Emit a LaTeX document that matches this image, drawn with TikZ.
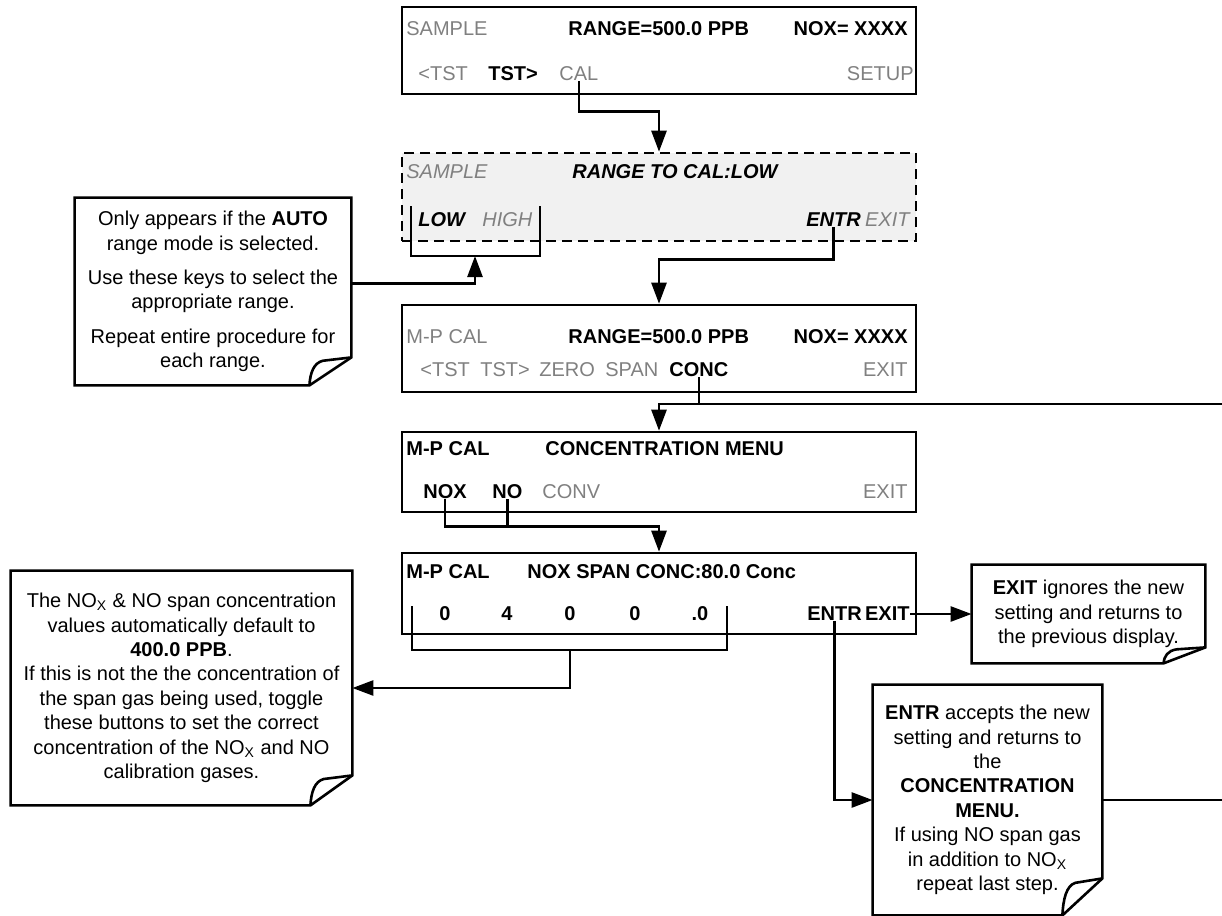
\documentclass[tikz,border=0pt]{standalone}
\usepackage{fontspec}
\setmainfont{Liberation Sans}
\usetikzlibrary{arrows.meta,calc}
\definecolor{keygray}{RGB}{128,128,128}
\definecolor{screenfill}{RGB}{241,241,241}
% note outline with a curled corner: node, fold width, fold height
\newcommand{\dogear}[3]{%
  \draw[link] (#1.south west) -- (#1.north west) -- (#1.north east)
    -- ($(#1.south east)+(0,-#3)$) -- ($(#1.south east)+(-#2,0)$) -- cycle;
  \draw[link] ($(#1.south east)+(0,-#3)$) -- ($(#1.south east)+(-0.68*#2,-0.88*#3)$)
    .. controls ($(#1.south east)+(-0.9*#2,-0.8*#3)$) and ($(#1.south east)+(-0.98*#2,-0.45*#3)$)
    .. ($(#1.south east)+(-#2,0)$);
}
\begin{document}
\begin{tikzpicture}[x=0.5pt,y=-0.5pt,
  screen/.style={draw, line width=1.3pt, minimum width=257pt, inner sep=0pt},
  key/.style={inner sep=0pt, font=\fontsize{10}{12}\selectfont},
  hot/.style={key, font=\fontsize{10}{12}\selectfont\bfseries},
  dim/.style={key, text=keygray},
  hotit/.style={key, font=\fontsize{10}{12}\selectfont\bfseries\itshape},
  dimit/.style={dim, font=\fontsize{10}{12}\selectfont\itshape},
  note/.style={align=center, inner sep=0pt, font=\fontsize{10}{12.2}\selectfont},
  link/.style={line width=1.3pt},
  arrow/.style={link, -{Triangle[length=10.5pt,width=7.5pt]}}]

  \useasboundingbox (0,0) rectangle (1222,916);

  % sample display
  \node[screen, minimum height=43.5pt] (sample) at (659,50.5) {};
  \node[dim, anchor=west] (smplbl) at (406,29) {SAMPLE};
  \node[hot, anchor=west] (smprange) at (568,29) {RANGE=500.0 PPB};
  \node[hot, anchor=east] (smpnox) at (908,29) {NOX= XXXX};
  \node[dim, anchor=west] (smptstl) at (418,74) {<TST};
  \node[hot, anchor=west] (smptstr) at (488,74) {TST>};
  \node[dim, anchor=west] (cal) at (559,74) {CAL};
  \node[dim, anchor=east] (setup) at (914,74) {SETUP};

  % range to cal (only in AUTO mode)
  \node[screen, dashed, dash pattern=on 5pt off 3pt, fill=screenfill, minimum height=44pt] (rangecal) at (659,197) {};
  \node[dimit, anchor=west] (rclbl) at (406,172) {SAMPLE};
  \node[hotit, anchor=west] (rctitle) at (572,172) {RANGE TO CAL:LOW};
  \node[hotit, anchor=west] (low) at (418,220) {LOW};
  \node[dimit, anchor=west] (high) at (482,220) {HIGH};
  \node[hotit, anchor=west] (entrA) at (806,220) {ENTR};
  \node[dimit, anchor=east] (exitA) at (910,220) {EXIT};

  % m-p cal display
  \node[screen, minimum height=43.5pt] (mpcal) at (659,348.5) {};
  \node[dim, anchor=west] (mplbl) at (406,337) {M-P CAL};
  \node[hot, anchor=west] (mprange) at (568,337) {RANGE=500.0 PPB};
  \node[hot, anchor=east] (mpnox) at (908,337) {NOX= XXXX};
  \node[dim, anchor=west] (mptstl) at (420,370) {<TST};
  \node[dim, anchor=west] (mptstr) at (480,370) {TST>};
  \node[dim, anchor=west] (zero) at (539,370) {ZERO};
  \node[dim, anchor=west] (span) at (605,370) {SPAN};
  \node[hot, anchor=west] (conc) at (669,370) {CONC};
  \node[dim, anchor=east] (mpexit) at (908,370) {EXIT};

  % concentration menu
  \node[screen, minimum height=40pt] (concmenu) at (659,472) {};
  \node[hot, anchor=west] (cmlbl) at (406,449) {M-P CAL};
  \node[hot, anchor=west] (cmtitle) at (545,449) {CONCENTRATION MENU};
  \node[hot, anchor=west] (nox) at (423,492) {NOX};
  \node[hot, anchor=west] (no) at (492,492) {NO};
  \node[dim, anchor=west] (conv) at (542,492) {CONV};
  \node[dim, anchor=east] (cmexit) at (908,492) {EXIT};

  % span concentration entry
  \node[screen, minimum height=40.5pt] (spanconc) at (659,593.5) {};
  \node[hot, anchor=west] (sclbl) at (406,572) {M-P CAL};
  \node[hot, anchor=west] (sctitle) at (527,572) {NOX SPAN CONC:80.0 Conc};
  \node[hot] (dgA) at (445,614) {0};
  \node[hot] (dgB) at (507,614) {4};
  \node[hot] (dgC) at (570,614) {0};
  \node[hot] (dgD) at (635,614) {0};
  \node[hot] (dgE) at (700,614) {.0};
  \node[hot, anchor=west] (entrB) at (807,614) {ENTR};
  \node[hot, anchor=east] (exitB) at (910,614) {EXIT};

  % notes
  \node[note, minimum width=138pt, minimum height=93.5pt] (autonote) at (213,291.5)
    {Only appears if the \textbf{AUTO}\\range mode is selected.\\[5pt]
     Use these keys to select the\\appropriate range.\\[5pt]
     Repeat entire procedure for\\each range.};
  \dogear{autonote}{42}{28}
  \node[note, minimum width=170.5pt, minimum height=117pt] (spannote) at (181.5,688)
    {The NO\textsubscript{X} \& NO span concentration\\values automatically default to\\\textbf{400.0 PPB}.\\
     If this is not the the concentration of\\the span gas being used, toggle\\these buttons to set the correct\\
     concentration of the NO\textsubscript{X} and NO\\calibration gases.};
  \dogear{spannote}{42}{30}
  \node[note, minimum width=116.5pt, minimum height=49pt] (exitnote) at (1088.5,614)
    {\textbf{EXIT} ignores the new\\setting and returns to\\the previous display.};
  \dogear{exitnote}{42}{16}
  \node[note, minimum width=114.5pt, minimum height=115pt] (entrnote) at (987.5,800)
    {\textbf{ENTR} accepts the new\\setting and returns to\\the\\\textbf{CONCENTRATION}\\\textbf{MENU.}\\
     If using NO span gas\\in addition to NO\textsubscript{X}\\repeat last step.};
  \dogear{entrnote}{40}{37}

  % brackets under the keys
  \coordinate (brA) at (475,256);
  \draw[link] (411,206) |- (540,256) -- (540,206);
  \coordinate (brB) at (570,650);
  \draw[link] (412,606) |- (727,650) -- (727,606);

  % connectors
  \draw[arrow] (cal.south) -- ++(0,30) -| (rangecal.north);
  \draw[arrow] ([yshift=4pt]autonote.east) -| (brA);
  \draw[arrow] (entrA.south) -- ++(0,32) -| (mpcal.north);
  \coordinate (rimA) at (1222,404);
  \draw[link] (conc.south) -- (conc.south |- rimA) -- (rimA);
  \draw[arrow] (conc.south |- rimA) -| (concmenu.north);
  \draw[link] (no.south) -- ++(0,27);
  \draw[arrow] (nox.south) -- ++(0,27) -| (spanconc.north);
  \draw[arrow] (brB) |- (spannote.east);
  \draw[arrow] (exitB.east) -- (exitnote.west);
  \draw[arrow] (entrB.south) |- (entrnote.west);
  \coordinate (rimB) at (1222,800);
  \draw[link] (entrnote.east) -- (rimB);
\end{tikzpicture}
\end{document}
